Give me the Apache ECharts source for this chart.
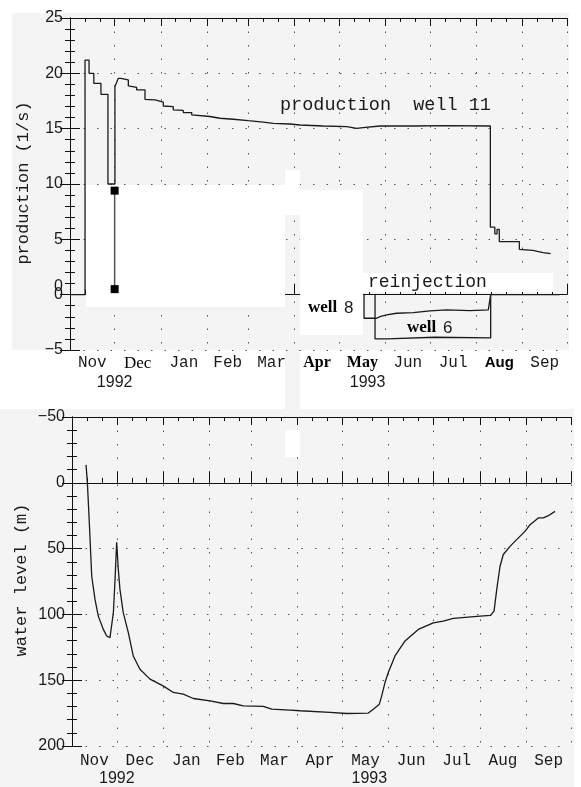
<!DOCTYPE html>
<html><head><meta charset="utf-8">
<script src="https://cdn.jsdelivr.net/npm/echarts@6/dist/echarts.min.js"></script>
<style>html,body{margin:0;padding:0;background:#fff}#c{width:581px;height:787px}</style>
</head><body><div id="c"></div>
<script>
// ---- data (x = days since 1 Nov 1992) ----
const monthStarts = [0, 30, 61, 92, 120, 151, 181, 212, 242, 273, 304, 334];
const monthNames = ['Nov', 'Dec', 'Jan', 'Feb', 'Mar', 'Apr', 'May', 'Jun', 'Jul', 'Aug', 'Sep'];
const yearLabels = ['1992', '1993'];
const yearDaysTop = [30, 200];
const yearDaysBottom = [30, 199];
const prodTicks = [-5, 0, 5, 10, 15, 20, 25];
const levelTicks = [-50, 0, 50, 100, 150, 200];

const prodWell11 = [[0,0],[10.1,0],[10.1,21.2],[12.8,21.2],[12.8,20.0],[16,20.0],[16,19.1],[20.8,19.1],[20.8,18.1],[25.5,18.1],[25.5,10.0],[30.2,10.0],[30.2,18.8],[32.5,19.55],[34,19.55],[34,19.4],[39.2,19.4],[39.2,18.86],[44.8,18.74],[44.8,18.5],[50.4,18.5],[50.4,17.65],[57.1,17.6],[57.1,17.44],[62.7,17.4],[62.7,17.05],[69.4,17.0],[69.4,16.69],[76.1,16.65],[76.1,16.45],[81.8,16.45],[81.8,16.24],[94,16.1],[100.8,15.94],[109.7,15.85],[119.8,15.72],[129.9,15.6],[136.6,15.48],[147.8,15.42],[154.6,15.33],[170.2,15.24],[186,15.18],[192.7,15.03],[197,15.09],[208.3,15.24],[230.7,15.24],[253.2,15.27],[282.5,15.24],[282.5,6.1],[285.5,6.1],[285.5,5.5],[287,5.5],[287,5.9],[288.5,5.9],[288.5,4.8],[302,4.8],[302,4.1],[311,4.0],[318,3.8],[323,3.7]];
const reinjWell8 = [[197.6,0],[197.6,-2.13],[206.1,-2.13],[208.3,-1.98],[212.8,-1.83],[219.5,-1.68],[230.7,-1.62],[241.9,-1.47],[253.2,-1.38],[268.8,-1.44],[281.1,-1.38],[282.2,-1.23],[282.7,0],[329,0]];
const reinjWell6 = [[205,0],[205,-4.0],[213,-4.0],[213.5,-3.85],[245,-3.85],[246,-3.9],[282.7,-3.9],[282.7,0]];
const markerBar = [[30,9.4],[30,0.5]];
const waterLevel = [[9.4,-13.6],[10.3,0.2],[11.6,30.5],[13.2,71],[15.4,88.6],[17.6,101.3],[21,111.4],[23.2,116.4],[25.4,117.7],[26.6,118.9],[27.7,98.7],[28.8,73.5],[29.9,45.2],[31,65.9],[32.1,81],[34.3,98.7],[37.7,113.9],[41,131.6],[45.5,141.7],[52.2,149.2],[61,154.3],[67.8,159.3],[74.5,160.6],[81.2,163.9],[92.4,165.7],[101.3,167.7],[108,167.7],[114.7,169.5],[128,169.9],[133.7,172],[145.9,172.7],[152.6,173.2],[172.7,174.5],[183.9,175.3],[198.3,175],[201.7,172],[205.7,168.2],[207.3,161.9],[209.5,151.8],[211.7,144.2],[216.2,131.6],[222.9,120.2],[231.8,111.4],[241.8,106.4],[248.5,105.1],[255.2,103],[273.1,101.3],[280.2,100.8],[282.5,97.5],[284.3,81],[286.5,63.4],[288.7,54.5],[293.2,48.3],[297.6,43.2],[303.2,36.9],[306.6,31.8],[312.1,26.7],[315.5,26.7],[318.8,25],[323.3,21.7]];

// ---- derived tick positions ----
const midMonths = monthNames.map((m, i) => (monthStarts[i] + monthStarts[i + 1]) / 2);
const minorDays = [];
for (let i = 0; i < monthNames.length; i++) { minorDays.push(monthStarts[i] + 10, monthStarts[i] + 20); }
const topStyle = { Dec: 's', Apr: 'bs', May: 'bs', Aug: 'bh' };

const INK = '#1a1a1a';
const DOT = { type: [1.5, 12], color: '#555', width: 1 };
const richMonth = {
  m: { fontFamily: 'Liberation Mono', fontSize: 16, color: INK },
  s: { fontFamily: 'Liberation Serif', fontSize: 17, color: '#000' },
  bs: { fontFamily: 'Liberation Serif', fontSize: 16, fontWeight: 'bold', color: '#000' },
  bh: { fontFamily: 'Liberation Sans', fontSize: 15, fontWeight: 'bold', color: '#000' }
};
function fmtMonth(v, styled) {
  let idx = 0, best = 1e9;
  midMonths.forEach((d, i) => { if (Math.abs(d - v) < best) { best = Math.abs(d - v); idx = i; } });
  const name = monthNames[idx];
  const st = styled && topStyle[name] ? topStyle[name] : 'm';
  return '{' + st + '|' + name + '}';
}
function fmtNum(v) { return v < 0 ? '\u2212' + Math.abs(v) : String(v); }

function xAxes(g, styled, years, labelMargin) {
  const base = { type: 'value', gridIndex: g, min: 0, max: 334 };
  const line = { show: true, lineStyle: { color: '#111', width: 1 } };
  return [
    Object.assign({}, base, { position: 'bottom', axisLine: line,
      axisTick: { show: true, inside: true, length: 11, customValues: monthStarts, lineStyle: { color: '#111' } },
      axisLabel: { show: true, customValues: midMonths, margin: labelMargin, formatter: v => fmtMonth(v, styled), rich: richMonth },
      splitLine: { show: true, lineStyle: DOT } }),
    Object.assign({}, base, { position: 'bottom', axisLine: { show: false },
      axisTick: { show: true, inside: true, length: 5, customValues: minorDays, lineStyle: { color: '#111' } },
      axisLabel: { show: false }, splitLine: { show: false } }),
    Object.assign({}, base, { position: 'top', axisLine: line,
      axisTick: { show: true, inside: true, length: 8, customValues: monthStarts, lineStyle: { color: '#111' } },
      axisLabel: { show: false }, splitLine: { show: false } }),
    Object.assign({}, base, { position: 'top', axisLine: { show: false },
      axisTick: { show: true, inside: true, length: 4, customValues: minorDays, lineStyle: { color: '#111' } },
      axisLabel: { show: false }, splitLine: { show: false } }),
    Object.assign({}, base, { position: 'bottom', offset: 18, axisLine: { show: false }, axisTick: { show: false },
      axisLabel: { show: true, customValues: years, margin: 7, fontFamily: 'Liberation Sans', fontSize: 16, color: INK,
        formatter: v => yearLabels[years.indexOf(v)] },
      splitLine: { show: false } })
  ];
}
function yAxes(g, ticks, inverse) {
  const base = { type: 'value', gridIndex: g, min: ticks[0], max: ticks[ticks.length - 1], interval: ticks[1] - ticks[0], inverse: inverse };
  const line = { show: true, lineStyle: { color: '#111', width: 1 } };
  return [
    Object.assign({}, base, { position: 'left', axisLine: line,
      axisTick: { show: true, inside: true, length: 10, lineStyle: { color: '#111' } },
      minorTick: { show: true, splitNumber: 5, length: 5, lineStyle: { color: '#111' } },
      axisLabel: { show: true, margin: 7, fontFamily: 'Liberation Sans', fontSize: 16, color: INK, formatter: fmtNum },
      splitLine: { show: true, lineStyle: DOT } }),
    Object.assign({}, base, { position: 'right', axisLine: line,
      axisTick: { show: true, inside: true, length: 10, lineStyle: { color: '#111' } },
      minorTick: { show: true, splitNumber: 5, length: 5, lineStyle: { color: '#111' } },
      axisLabel: { show: false }, splitLine: { show: false } })
  ];
}

const lineSeries = (name, data, xi, yi) => ({
  name, type: 'line', data, xAxisIndex: xi, yAxisIndex: yi, symbol: 'none', showSymbol: false,
  lineStyle: { color: INK, width: 1.3 }, z: 3, silent: true
});

const rect = (x, y, w, h, fill, z) => ({ type: 'rect', shape: { x, y, width: w, height: h }, style: { fill }, z, silent: true });
const txt = (x, y, text, font, align, extra) => Object.assign({ type: 'text', x, y, z: 60, silent: true,
  style: { text, font, fill: INK, align: align || 'left', verticalAlign: 'middle' } }, extra || {});
const wellRich = { a: { fontFamily: 'Liberation Serif', fontSize: 17, fontWeight: 'bold', fill: '#000' },
                   b: { fontFamily: 'Liberation Sans', fontSize: 17, fill: INK } };

const chart = echarts.init(document.getElementById('c'));
chart.setOption({
  animation: false,
  backgroundColor: '#ffffff',
  grid: [
    { left: 70, top: 18, width: 497, height: 332 },
    { left: 72, top: 417, width: 499, height: 330 }
  ],
  xAxis: xAxes(0, true, yearDaysTop, 5).concat(xAxes(1, false, yearDaysBottom, 7)),
  yAxis: yAxes(0, prodTicks, false).concat(yAxes(1, levelTicks, true)),
  series: [
    lineSeries('production well 11', prodWell11, 0, 0),
    lineSeries('well 8', reinjWell8, 0, 0),
    lineSeries('well 6', reinjWell6, 0, 0),
    { name: 'marker', type: 'line', data: markerBar, xAxisIndex: 0, yAxisIndex: 0, symbol: 'rect', symbolSize: 8,
      showSymbol: true, itemStyle: { color: '#000' }, lineStyle: { color: '#555', width: 1.5 }, z: 70, silent: true },
    lineSeries('water level', waterLevel, 5, 2)
  ],
  graphic: { elements: [
    rect(12, 13, 557, 337, '#f4f4f4', -10),
    rect(0, 409, 574, 378, '#f4f4f4', -10),
    rect(285, 350, 15, 60, '#f4f4f4', -10),
    rect(86, 185, 199, 122, '#ffffff', 50),
    rect(285, 170, 15, 45, '#ffffff', 50),
    rect(300, 190, 63, 145, '#ffffff', 50),
    rect(363, 273, 190, 19, '#ffffff', 50),
    rect(285, 430, 15, 27, '#ffffff', 50),
    txt(280, 105, 'production  well 11', '18.5px "Liberation Mono"'),
    txt(368, 282, 'reinjection', '18px "Liberation Mono"'),
    { type: 'text', x: 308, y: 308, z: 60, silent: true, style: { text: '{a|well}  {b|8}', verticalAlign: 'middle', rich: wellRich } },
    { type: 'text', x: 407, y: 328, z: 60, silent: true, style: { text: '{a|well}  {b|6}', verticalAlign: 'middle', rich: wellRich } },
    txt(63, 287, '0', '16px "Liberation Sans"', 'right'),
    txt(23, 183, 'production (1/s)', '17px "Liberation Mono"', 'center', { rotation: Math.PI / 2 }),
    txt(21, 580, 'water level (m)', '17px "Liberation Mono"', 'center', { rotation: Math.PI / 2 })
  ] }
});
</script></body></html>
